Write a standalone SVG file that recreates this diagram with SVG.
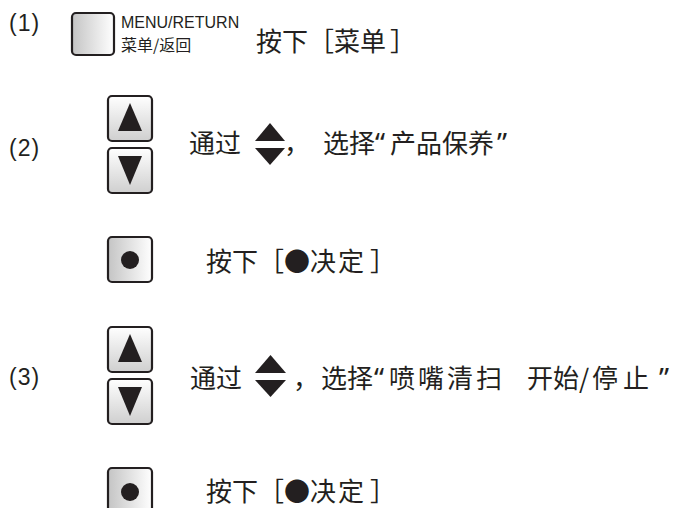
<svg xmlns="http://www.w3.org/2000/svg" width="676" height="508" viewBox="0 0 676 508">
  <defs>
    <linearGradient id="gH" x1="0" y1="0" x2="1" y2="0">
      <stop offset="0" stop-color="#c4c4c4"/>
      <stop offset="1" stop-color="#ffffff"/>
    </linearGradient>
    <linearGradient id="gV" x1="0" y1="0" x2="0" y2="1">
      <stop offset="0" stop-color="#ffffff"/>
      <stop offset="1" stop-color="#cfcfcf"/>
    </linearGradient>
    <style>
      .btn { stroke: #231f20; stroke-width: 2.2; }
      .h { fill: url(#gH); }
      .v { fill: url(#gV); }
      .k { fill: #231f20; }
      .t { font-family: "Noto Sans CJK SC", "Noto Sans", sans-serif; fill: #231f20; }
      .q { font-family: "Noto Sans", "Liberation Sans", sans-serif; font-size: 28px; }
      .num { font-family: "Liberation Sans", "Noto Sans", sans-serif; font-size: 23px; fill: #231f20; letter-spacing: 1px; }
      .big { font-size: 26px; }
    </style>
  </defs>

  <!-- step 1 -->
  <g id="step1">
    <text class="num" x="9" y="31">(1)</text>
    <rect class="btn h" x="72" y="13" width="42" height="42" rx="4"/>
    <text x="121" y="28" font-family="Liberation Sans, Arial, sans-serif" font-size="16" fill="#231f20">MENU/RETURN</text>
    <text class="t" x="121" y="51" font-size="16">菜单/返回</text>
    <text class="t big" y="51"><tspan x="256">按下［</tspan><tspan x="334">菜单</tspan><tspan x="390">］</tspan></text>
  </g>

  <!-- step 2 -->
  <g id="step2">
    <text class="num" x="9" y="156">(2)</text>
    <g id="updown2">
      <rect class="btn v" x="108" y="96" width="44" height="45" rx="4"/>
      <polygon class="k" points="130,103 142,131 118,131"/>
      <rect class="btn v" x="108" y="148" width="44" height="45" rx="4"/>
      <polygon class="k" points="118,156 142,156 130,185"/>
    </g>
    <g id="arrows2">
      <polygon class="k" points="255,141 285,141 270,123"/>
      <polygon class="k" points="255,148 285,148 270,165"/>
    </g>
    <text class="t big" y="153"><tspan x="189">通过</tspan><tspan x="284">，</tspan><tspan x="323">选择</tspan><tspan class="q" x="375">“</tspan><tspan x="390">产品保养</tspan><tspan class="q" x="497">”</tspan></text>
  </g>

  <g id="confirm2">
    <rect class="btn h" x="108" y="237" width="44" height="45" rx="4"/>
    <circle class="k" cx="130" cy="260" r="9"/>
    <text class="t big" y="271"><tspan x="206">按下</tspan><tspan x="258">［</tspan><tspan x="284">●</tspan><tspan x="310" letter-spacing="2">决定</tspan><tspan x="370">］</tspan></text>
  </g>

  <!-- step 3 -->
  <g id="step3">
    <text class="num" x="9" y="385">(3)</text>
    <g id="updown3">
      <rect class="btn v" x="108" y="327" width="44" height="45" rx="4"/>
      <polygon class="k" points="130,334 142,362 118,362"/>
      <rect class="btn v" x="108" y="379" width="44" height="45" rx="4"/>
      <polygon class="k" points="118,387 142,387 130,416"/>
    </g>
    <g id="arrows3">
      <polygon class="k" points="255,373 286,373 270.5,355"/>
      <polygon class="k" points="255,380 286,380 270.5,397"/>
    </g>
    <text class="t big" y="388"><tspan x="190">通过</tspan><tspan x="293">，</tspan><tspan x="321">选择</tspan><tspan class="q" x="374">“</tspan><tspan x="389" letter-spacing="3">喷嘴清扫</tspan><tspan x="527">开始</tspan><tspan x="579">/</tspan><tspan x="592" letter-spacing="5">停止</tspan><tspan class="q" x="659">”</tspan></text>
  </g>

  <g id="confirm3">
    <rect class="btn h" x="108" y="468" width="44" height="45" rx="4"/>
    <circle class="k" cx="130" cy="492" r="9"/>
    <text class="t big" y="501"><tspan x="206">按下</tspan><tspan x="258">［</tspan><tspan x="284">●</tspan><tspan x="310" letter-spacing="2">决定</tspan><tspan x="370">］</tspan></text>
  </g>
</svg>
